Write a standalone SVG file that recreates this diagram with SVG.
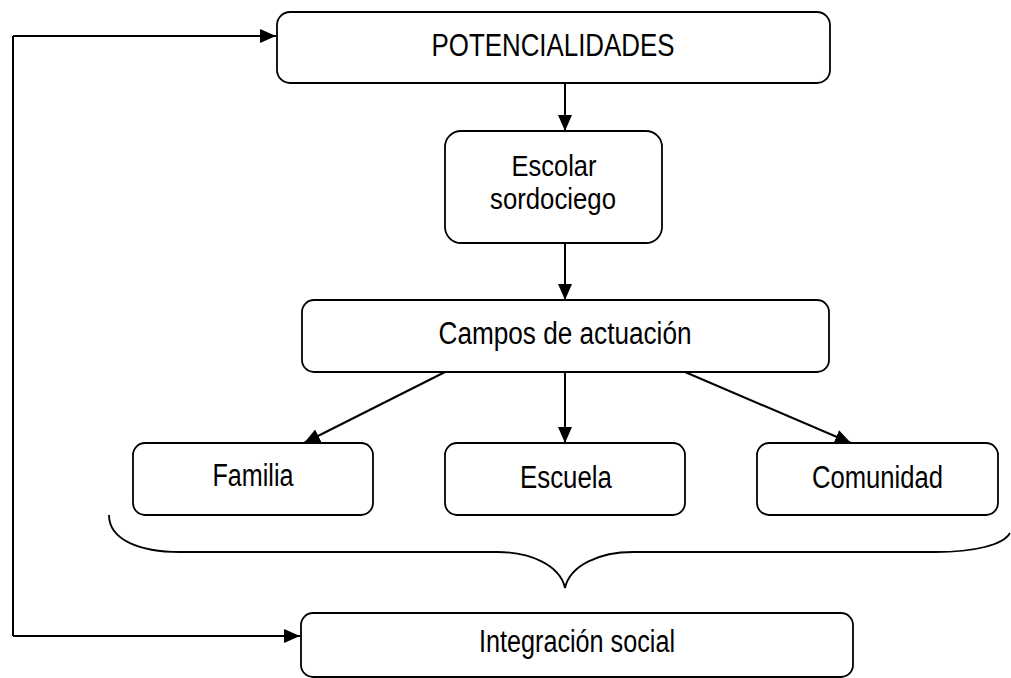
<svg xmlns="http://www.w3.org/2000/svg" width="1011" height="678" viewBox="0 0 1011 678">
<style>
.box{fill:#fff;stroke:#000;stroke-width:1.8}
.lbl{font-family:"Liberation Sans",Arial,sans-serif;font-size:31px;fill:#000;text-anchor:middle}
.lbl2{font-family:"Liberation Sans",Arial,sans-serif;font-size:29px;fill:#000;text-anchor:middle}
.con{fill:none;stroke:#000;stroke-width:2}
</style>
<defs>
<marker id="arr" viewBox="0 0 16 14" refX="16" refY="7" markerWidth="16" markerHeight="14" markerUnits="userSpaceOnUse" orient="auto">
<path d="M0,0 L16,7 L0,14 Z" fill="#000"/>
</marker>
</defs>
<rect width="1011" height="678" fill="#fff"/>
<g id="connectors">
<path class="con" d="M13,36 L13,636" />
<path class="con" d="M13,36 L276,36" marker-end="url(#arr)"/>
<path class="con" d="M13,636 L300,636" marker-end="url(#arr)"/>
<path class="con" d="M565,83 L565,131" marker-end="url(#arr)"/>
<path class="con" d="M565,243 L565,300" marker-end="url(#arr)"/>
<path class="con" d="M565,372 L565,443" marker-end="url(#arr)"/>
<path class="con" d="M445,372 L304,443" marker-end="url(#arr)"/>
<path class="con" d="M685,372 L851,443" marker-end="url(#arr)"/>
<path fill="none" stroke="#000" stroke-width="1.8" d="M109,515 C109,540 140,552 180,552 L497,552 C530,552 560,565 565,588 C570,565 600,552 633,552 L935,552 C975,552 1003,545 1010,533"/>
</g>
<g id="potencialidades">
<rect class="box" x="277" y="12" width="553" height="71" rx="13"/>
<text class="lbl" x="553" y="56" textLength="243" lengthAdjust="spacingAndGlyphs">POTENCIALIDADES</text>
</g>
<g id="escolar">
<rect class="box" x="445" y="131" width="217" height="112" rx="16"/>
<text class="lbl2" x="554" y="176" textLength="85" lengthAdjust="spacingAndGlyphs">Escolar</text>
<text class="lbl2" x="553" y="209" textLength="126" lengthAdjust="spacingAndGlyphs">sordociego</text>
</g>
<g id="campos">
<rect class="box" x="302" y="300" width="527" height="72" rx="12"/>
<text class="lbl" x="565" y="344" textLength="253" lengthAdjust="spacingAndGlyphs">Campos de actuación</text>
</g>
<g id="familia">
<rect class="box" x="133" y="443" width="240" height="72" rx="12"/>
<text class="lbl" x="253" y="486" textLength="81" lengthAdjust="spacingAndGlyphs">Familia</text>
</g>
<g id="escuela">
<rect class="box" x="445" y="443" width="240" height="72" rx="12"/>
<text class="lbl" x="566" y="488" textLength="92" lengthAdjust="spacingAndGlyphs">Escuela</text>
</g>
<g id="comunidad">
<rect class="box" x="757" y="443" width="241" height="72" rx="12"/>
<text class="lbl" x="877.5" y="488" textLength="131" lengthAdjust="spacingAndGlyphs">Comunidad</text>
</g>
<g id="integracion">
<rect class="box" x="301" y="613" width="552" height="64" rx="12"/>
<text class="lbl" x="577" y="652" textLength="196" lengthAdjust="spacingAndGlyphs">Integración social</text>
</g>
</svg>
